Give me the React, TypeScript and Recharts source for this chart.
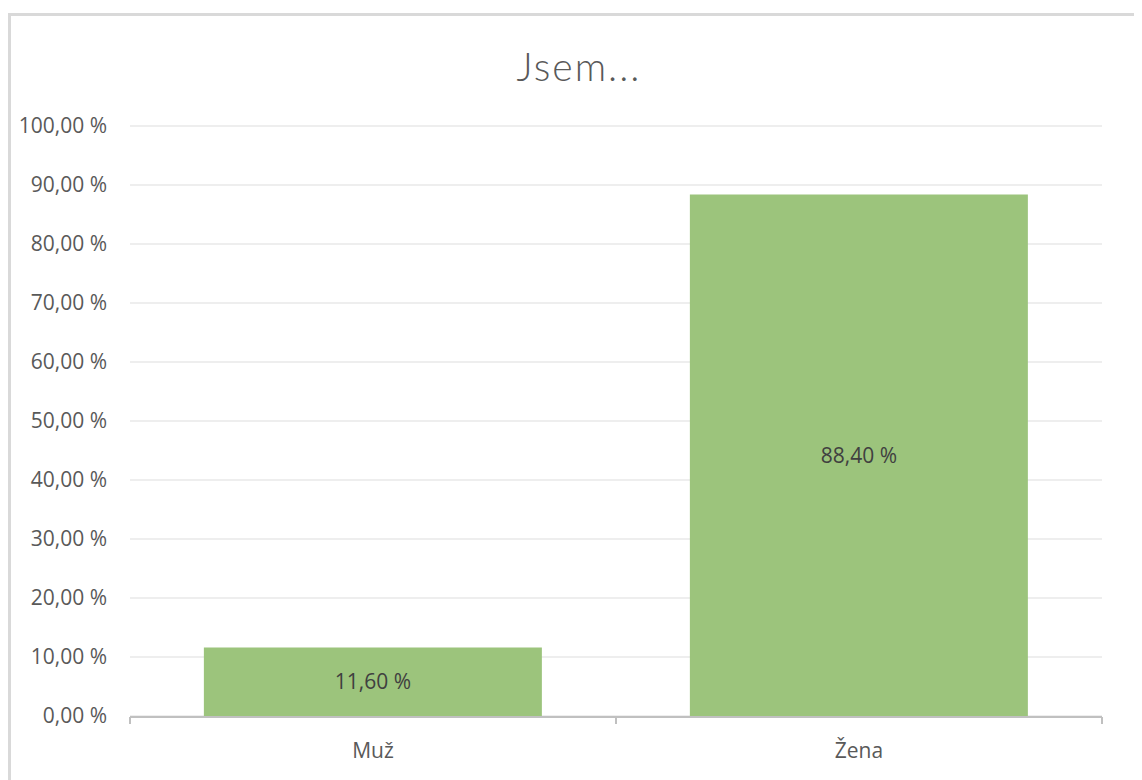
import React from 'react';
import { BarChart, Bar, XAxis, YAxis, CartesianGrid, LabelList } from 'recharts';

const categories = ['Muž', 'Žena'];
const shares = [11.6, 88.4];
const yTicks = [0, 10, 20, 30, 40, 50, 60, 70, 80, 90, 100];
const edgeTicks = [0, 1, 2];

const data = categories.map((name, i) => ({ name, value: shares[i], edge: i + 0.5 }));

const fmt = (v: number) => `${v.toFixed(2).replace('.', ',')} %`;

const FONT = '"Open Sans", Lato, sans-serif';
const TEXT = '#595959';

const App: React.FC = () => {
  return (
    <div style={{ position: 'relative', width: 1134, height: 772, overflow: 'hidden', fontFamily: FONT }}>
      <div
        style={{
          position: 'absolute',
          left: 0,
          top: 5,
          width: 1200,
          height: 900,
          borderLeft: '3px solid #d9d9d9',
          borderTop: '3px solid #d9d9d9',
        }}
      />
      <div
        style={{
          position: 'absolute',
          left: 0,
          width: 1142,
          top: 35,
          textAlign: 'center',
          fontSize: 39,
          color: TEXT,
          fontWeight: 300,
          fontFamily: 'Lato, sans-serif',
          letterSpacing: 2,
        }}
      >
        Jsem...
      </div>
      <div style={{ position: 'absolute', left: 0, top: 0 }}>
        <BarChart
          width={1134}
          height={772}
          data={data}
          margin={{ top: 118, right: 40, bottom: 62, left: 0 }}
          barCategoryGap="15.2%"
        >
          <CartesianGrid vertical={false} stroke="#eeeeee" strokeWidth={2} />
          <XAxis
            xAxisId="edges"
            type="number"
            dataKey="edge"
            domain={[0, 2]}
            ticks={edgeTicks}
            tickFormatter={() => ''}
            height={1}
            tickSize={7}
            axisLine={{ stroke: '#c0c0c0', strokeWidth: 2 }}
            tickLine={{ stroke: '#c0c0c0', strokeWidth: 2 }}
          />
          <XAxis
            dataKey="name"
            height={1}
            axisLine={false}
            tickLine={false}
            tickMargin={21}
            tick={{ fill: TEXT, fontSize: 21, fontFamily: FONT }}
          />
          <YAxis
            width={122}
            domain={[0, 100]}
            ticks={yTicks}
            tickFormatter={fmt}
            axisLine={false}
            tickLine={false}
            tickMargin={17}
            tick={{ fill: TEXT, fontSize: 21, fontFamily: FONT }}
          />
          <Bar dataKey="value" fill="#9cc47c" isAnimationActive={false}>
            <LabelList
              dataKey="value"
              position="center"
              formatter={(v: any) => fmt(Number(v))}
              style={{ fill: '#404040', fontSize: 21, fontFamily: FONT }}
            />
          </Bar>
        </BarChart>
      </div>
    </div>
  );
};

export default App;
